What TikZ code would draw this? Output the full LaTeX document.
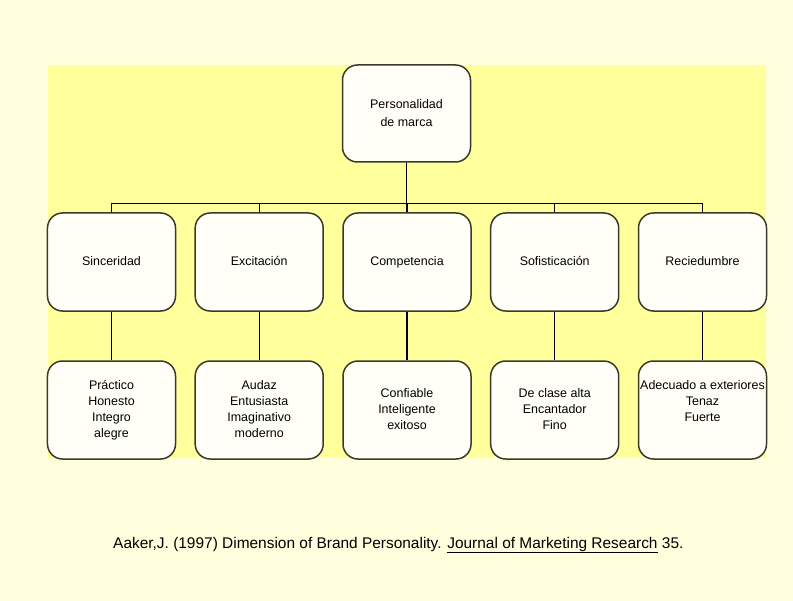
\documentclass[tikz,border=0pt]{standalone}
\usepackage{fontspec}
\setmainfont{Liberation Sans}
\definecolor{cream}{HTML}{FFFFDD}
\definecolor{panel}{HTML}{FFFF9B}
\definecolor{boxfill}{HTML}{FFFFF7}
\definecolor{boxline}{HTML}{3A3A2A}
\begin{document}
\begin{tikzpicture}[x=1bp,y=-1bp,
  box/.style={draw=boxline, line width=1.5bp, fill=boxfill, rounded corners=15bp,
    minimum width=128bp, minimum height=98bp, inner sep=0pt, align=center,
    font=\fontsize{12.5}{16}\selectfont},
  link/.style={draw=black, line width=1.3bp}]
% page and yellow panel
\fill[cream] (0,0) rectangle (793,601);
\useasboundingbox (0,0) rectangle (793,601);
\fill[panel] (48,65) rectangle (766,458);

% root
\node[box, minimum height=97bp, font=\fontsize{12.5}{18}\selectfont] (root) at (406.5,113.5) {\strut Personalidad\\de marca\strut};

% dimensions
\node[box] (m1) at (111.5,262) {\strut Sinceridad};
\node[box] (m2) at (259.2,262) {\strut Excitación};
\node[box] (m3) at (407,262) {\strut Competencia};
\node[box] (m4) at (554.7,262) {\strut Sofisticación};
\node[box] (m5) at (702.5,262) {\strut Reciedumbre};

% traits
\node[box] (b1) at (111.5,410) {\strut Práctico\\Honesto\\Integro\\alegre\strut};
\node[box] (b2) at (259.2,410) {\strut Audaz\\Entusiasta\\Imaginativo\\moderno\strut};
\node[box] (b3) at (407,410) {\strut Confiable\\Inteligente\\exitoso\strut};
\node[box] (b4) at (554.7,410) {\strut De clase alta\\Encantador\\Fino\strut};
\node[box] (b5) at (702.5,410) {\strut Adecuado a exteriores\\Tenaz\\Fuerte\\\strut};

% tree connectors
\foreach \m in {m1,m2,m3,m4,m5}
  \draw[link] (root.south) -- ++(0,41) -| (\m.north);
\foreach \i in {1,...,5}
  \draw[link] (m\i.south) -- (b\i.north);

% reference
\node[anchor=west, inner sep=0pt, font=\fontsize{15.5}{18}\selectfont] (cite) at (113,545)
  {Aaker,J. (1997) Dimension of Brand Personality. \underline{Journal of Marketing Research} 35.};
\end{tikzpicture}
\end{document}
